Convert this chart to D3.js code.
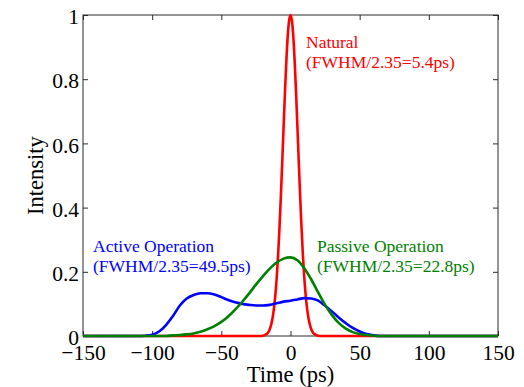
<!DOCTYPE html>
<html>
<head>
<meta charset="utf-8">
<script src="https://cdn.jsdelivr.net/npm/d3@7"></script>
<style>
  body { margin: 0; background: #fff; }
  svg { display: block; font-family: "Liberation Serif", "Times New Roman", serif; }
</style>
</head>
<body>
<div id="chart"></div>
<script>
// tick values
const xTicks = [-150, -100, -50, 0, 50, 100, 150];
const yTicks = [0, 0.2, 0.4, 0.6, 0.8, 1];

// narrow natural pulse, sampled every 1 ps near the peak
const naturalTime = [-150, -22, -21, -20, -19, -18, -17, -16, -15, -14, -13, -12, -11, -10, -9, -8, -7, -6, -5, -4, -3, -2, -1,
  0, 1, 2, 3, 4, 5, 6, 7, 8, 9, 10, 11, 12, 13, 14, 15, 16, 17, 18, 19, 20, 21, 22, 150];
const naturalIntensity = [0, 0, 0, 0.001, 0.002, 0.004, 0.007, 0.012, 0.021, 0.035, 0.055, 0.085, 0.126, 0.180, 0.249, 0.334, 0.432, 0.539, 0.651, 0.760, 0.857, 0.934, 0.983,
  1, 0.983, 0.934, 0.857, 0.760, 0.651, 0.539, 0.432, 0.334, 0.249, 0.180, 0.126, 0.085, 0.055, 0.035, 0.021, 0.012, 0.007, 0.004, 0.002, 0.001, 0, 0, 0];

// wider pulses, sampled every 5 ps
const wideTime = [-150, -110, -105, -100, -95, -90, -85, -80, -75, -70, -65, -60, -55, -50, -45, -40, -35, -30, -25, -20, -15, -10, -5,
  0, 5, 10, 15, 20, 25, 30, 35, 40, 45, 50, 55, 60, 65, 70, 150];
const activeIntensity = [0, 0, 0.001, 0.004, 0.014, 0.034, 0.062, 0.095, 0.117, 0.128, 0.133, 0.133, 0.129, 0.121, 0.112, 0.105, 0.100, 0.097, 0.095, 0.095, 0.097, 0.102, 0.107,
  0.110, 0.114, 0.118, 0.117, 0.110, 0.094, 0.076, 0.057, 0.040, 0.025, 0.014, 0.006, 0.002, 0, 0, 0];
const passiveIntensity = [0, 0, 0, 0, 0, 0, 0.002, 0.003, 0.005, 0.008, 0.013, 0.021, 0.031, 0.044, 0.061, 0.082, 0.106, 0.132, 0.160, 0.186, 0.210, 0.229, 0.241,
  0.245, 0.236, 0.211, 0.176, 0.136, 0.097, 0.065, 0.040, 0.023, 0.012, 0.006, 0.003, 0.001, 0, 0, 0];

const width = 524;
const height = 387;
const margin = { top: 15, right: 26, bottom: 51, left: 83 };

const svg = d3.select("#chart")
  .append("svg")
  .attr("width", width)
  .attr("height", height);

const x = d3.scaleLinear().domain([-150, 150]).range([margin.left, width - margin.right]);
const y = d3.scaleLinear().domain([0, 1]).range([height - margin.bottom, margin.top]);

const axisColor = "#2a2a2a";
const tickFont = "21.5px";

// axes with inward ticks
const xAxis = svg.append("g")
  .attr("transform", `translate(0,${y(0)})`)
  .call(d3.axisBottom(x).tickValues(xTicks).tickSizeInner(-5).tickSizeOuter(0).tickPadding(9));
const xTop = svg.append("g")
  .attr("transform", `translate(0,${y(1)})`)
  .call(d3.axisTop(x).tickValues(xTicks).tickSizeInner(-5).tickSizeOuter(0).tickFormat(""));
const yAxis = svg.append("g")
  .attr("transform", `translate(${x(-150)},0)`)
  .call(d3.axisLeft(y).tickValues(yTicks).tickFormat(d3.format("")).tickSizeInner(-5).tickSizeOuter(0).tickPadding(4));
const yRight = svg.append("g")
  .attr("transform", `translate(${x(150)},0)`)
  .call(d3.axisRight(y).tickValues(yTicks).tickSizeInner(-5).tickSizeOuter(0).tickFormat(""));

svg.selectAll(".domain").remove();
svg.selectAll(".tick line").attr("stroke", axisColor).attr("stroke-width", 1);
svg.selectAll(".tick text")
  .style("font-size", tickFont)
  .style("font-family", "'Liberation Serif', 'Times New Roman', serif")
  .attr("fill", "#000");
yAxis.selectAll(".tick text").attr("dy", "0.4em");

// plot frame
svg.append("rect")
  .attr("x", x(-150))
  .attr("y", y(1))
  .attr("width", x(150) - x(-150))
  .attr("height", y(0) - y(1))
  .attr("fill", "none")
  .attr("stroke", axisColor)
  .attr("stroke-width", 1);

// curves
const line = d3.line()
  .x(d => x(d[0]))
  .y(d => y(d[1]))
  .curve(d3.curveMonotoneX);

const series = [
  { name: "Natural", time: naturalTime, values: naturalIntensity, color: "#ff0000" },
  { name: "Active", time: wideTime, values: activeIntensity, color: "#0000ff" },
  { name: "Passive", time: wideTime, values: passiveIntensity, color: "#008000" },
];

series.forEach(s => {
  svg.append("path")
    .datum(d3.zip(s.time, s.values))
    .attr("fill", "none")
    .attr("stroke", s.color)
    .attr("stroke-width", 2.6)
    .attr("stroke-linejoin", "round")
    .attr("d", line);
});

// annotations
const notes = [
  { lines: ["Natural", "(FWHM/2.35=5.4ps)"], x: 306, y: 48, color: "#ff0000" },
  { lines: ["Active Operation", "(FWHM/2.35=49.5ps)"], x: 93, y: 252, color: "#0000ff" },
  { lines: ["Passive Operation", "(FWHM/2.35=22.8ps)"], x: 317, y: 252, color: "#008000" },
];

notes.forEach(n => {
  const t = svg.append("text")
    .attr("x", n.x)
    .attr("y", n.y)
    .attr("fill", n.color)
    .style("font-size", "17.5px");
  n.lines.forEach((l, i) => {
    t.append("tspan")
      .attr("x", n.x)
      .attr("dy", i === 0 ? 0 : 20)
      .text(l);
  });
});

// axis titles
svg.append("text")
  .attr("x", (x(-150) + x(150)) / 2)
  .attr("y", 382)
  .attr("text-anchor", "middle")
  .style("font-size", "22.5px")
  .text("Time (ps)");

svg.append("text")
  .attr("transform", `translate(43,${(y(0) + y(1)) / 2}) rotate(-90)`)
  .attr("text-anchor", "middle")
  .style("font-size", "22.5px")
  .text("Intensity");
</script>
</body>
</html>
